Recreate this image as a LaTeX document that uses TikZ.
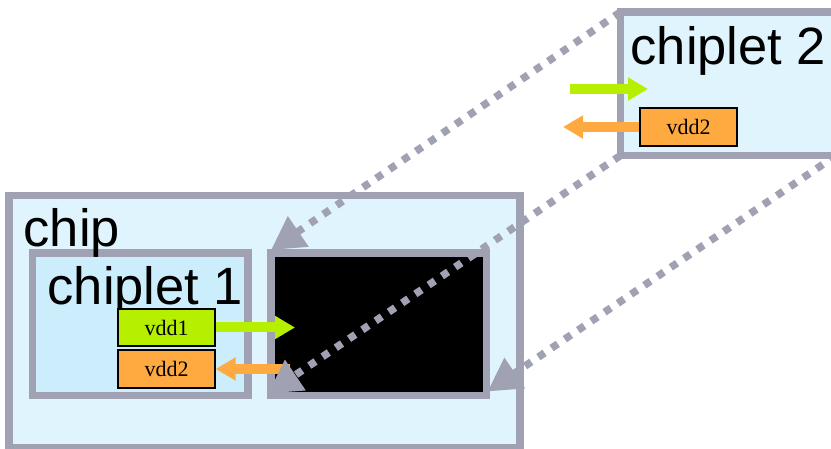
\documentclass[tikz,border=0pt]{standalone}
\usepackage{fontspec}
\setmainfont{Liberation Serif}
\newfontfamily\arialfont{Liberation Sans}
\usetikzlibrary{arrows.meta}
\definecolor{bordergray}{RGB}{160,161,178}
\definecolor{chipfill}{RGB}{224,244,253}
\definecolor{cpfill}{RGB}{204,238,252}
\definecolor{vgreen}{RGB}{182,240,0}
\definecolor{vorange}{RGB}{255,170,64}
\begin{document}
\begin{tikzpicture}[x=1pt,y=-1pt,
  box/.style={draw=bordergray,line width=7.5pt,inner sep=0pt,outer sep=0pt,minimum width=#1},
  bigtext/.style={font=\arialfont\fontsize{52.5}{52.5}\selectfont,anchor=base west,inner sep=0pt},
  vddbox/.style={draw=black,line width=1.3pt,inner sep=0pt,minimum width=97pt,minimum height=38pt,font=\fontsize{22}{22}\selectfont},
  power/.style={line width=10pt},
  mapline/.style={draw=bordergray,line width=7.5pt,dash pattern=on 7.5pt off 8.5pt,-{Triangle[length=33pt,width=35pt,fill=bordergray]}}
]
\useasboundingbox (0,0) rectangle (831,449);
\begin{scope}
\clip (0,0) rectangle (831,449);
\node[box=511pt,minimum height=252pt,fill=chipfill] (chip) at (264.5,321.5) {};
\node[box=215.5pt,minimum height=142.5pt,fill=cpfill] (cp1) at (140.25,324.25) {};
\node[box=215.5pt,minimum height=142.5pt,fill=black] (hole) at (378.75,324.25) {};
\node[box=215.5pt,minimum height=143.5pt,fill=chipfill] (cp2) at (728.25,83.75) {};

\node[bigtext] (chiplabel) at (23.5,247) {chip};
\node[bigtext] (cp1label) at (47.5,305) {chiplet 1};
\node[bigtext] (cp2label) at (630.5,65) {chiplet 2};

\node[vddbox,fill=vgreen,minimum height=37pt] (vdd1) at (166.5,327.5) {vdd1};
\node[vddbox,fill=vorange] (vdd2a) at (166.5,369) {vdd2};
\node[vddbox,fill=vorange] (vdd2b) at (688.5,127) {vdd2};

\coordinate (g1end) at (295,327.5);
\coordinate (o1start) at (290,369);
\coordinate (g2start) at (570,89);
\coordinate (g2end) at (648,89);
\coordinate (o2end) at (563,127);

\draw[power,draw=vgreen,-{Triangle[length=20pt,width=22pt,fill=vgreen]}] (vdd1.east) -- (g1end);
\draw[power,draw=vorange,-{Triangle[length=20pt,width=22pt,fill=vorange]}] (o1start) -- (vdd2a.east);
\draw[power,draw=vgreen,-{Triangle[length=20pt,width=22pt,fill=vgreen]}] (g2start) -- (g2end);
\draw[power,draw=vorange,-{Triangle[length=20pt,width=22pt,fill=vorange]}] (vdd2b.west) -- (o2end);

\draw[mapline] (cp2.north west) -- ([shift={(0,-3)}]hole.north west);
\draw[mapline] (cp2.south west) -- ([shift={(-3,-2)}]hole.south west);
\draw[mapline] (cp2.south east) -- ([shift={(1,-4)}]hole.south east);
\end{scope}
\end{tikzpicture}
\end{document}
